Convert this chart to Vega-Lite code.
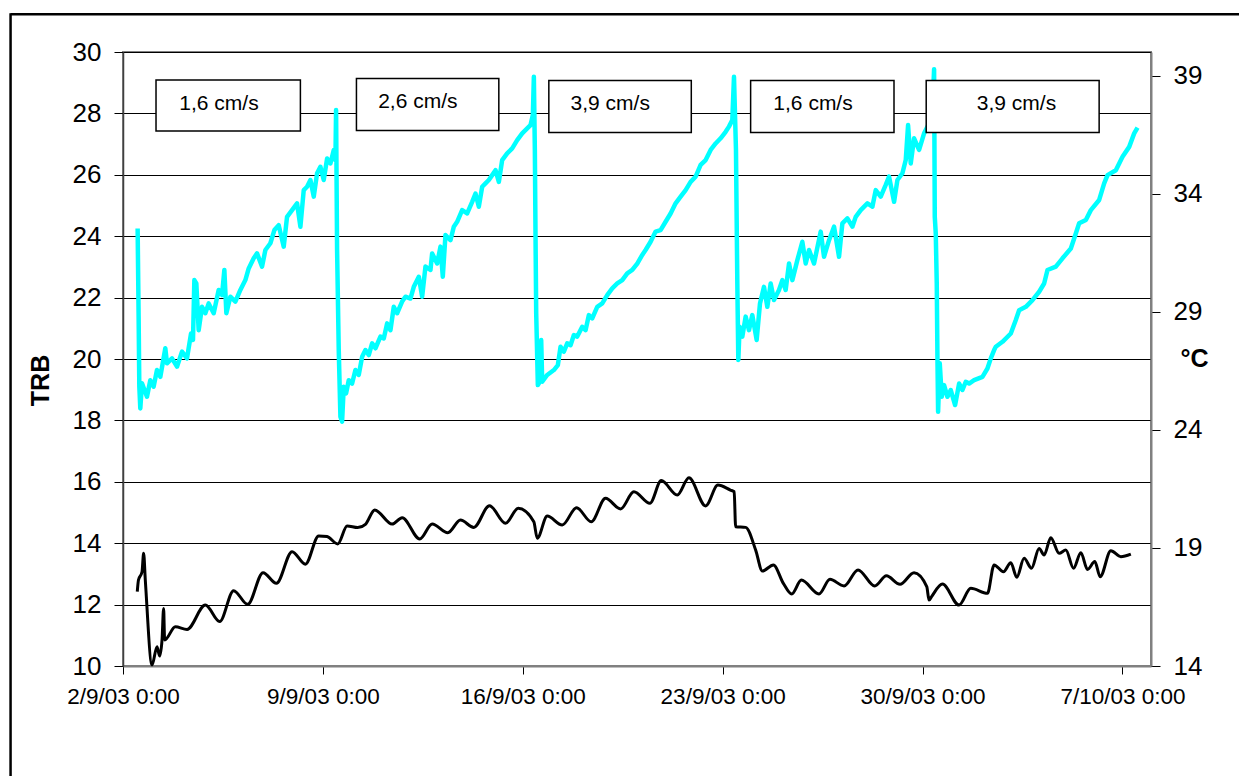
{
  "$schema": "https://vega.github.io/schema/vega-lite/v6.json",
  "width": 1028,
  "height": 614,
  "autosize": {"type": "none"},
  "padding": {"left": 123, "top": 52, "right": 88, "bottom": 110},
  "background": "white",
  "config": {
    "font": "Liberation Sans",
    "view": {"stroke": "#808080", "strokeWidth": 2}
  },
  "datasets": {
    "trb": [
      {"t": "2003-09-02T12:18", "v": 24.25},
      {"t": "2003-09-02T13:08", "v": 21.38},
      {"t": "2003-09-02T13:43", "v": 19.10},
      {"t": "2003-09-02T14:33", "v": 18.39},
      {"t": "2003-09-02T15:57", "v": 19.21},
      {"t": "2003-09-02T20:09", "v": 18.77},
      {"t": "2003-09-02T22:57", "v": 19.31},
      {"t": "2003-09-03T01:45", "v": 19.10},
      {"t": "2003-09-03T04:34", "v": 19.64},
      {"t": "2003-09-03T07:22", "v": 19.42},
      {"t": "2003-09-03T11:34", "v": 20.35},
      {"t": "2003-09-03T12:58", "v": 19.86},
      {"t": "2003-09-03T17:11", "v": 20.02},
      {"t": "2003-09-03T21:23", "v": 19.75},
      {"t": "2003-09-04T01:35", "v": 20.24},
      {"t": "2003-09-04T05:47", "v": 20.02},
      {"t": "2003-09-04T09:10", "v": 20.83},
      {"t": "2003-09-04T10:50", "v": 20.62},
      {"t": "2003-09-04T11:58", "v": 22.57},
      {"t": "2003-09-04T13:38", "v": 22.46},
      {"t": "2003-09-04T15:36", "v": 20.94},
      {"t": "2003-09-04T18:24", "v": 21.70},
      {"t": "2003-09-04T21:12", "v": 21.49},
      {"t": "2003-09-05T00:00", "v": 21.81},
      {"t": "2003-09-05T04:13", "v": 21.49},
      {"t": "2003-09-05T08:25", "v": 22.25},
      {"t": "2003-09-05T11:14", "v": 22.08},
      {"t": "2003-09-05T13:11", "v": 22.90},
      {"t": "2003-09-05T14:52", "v": 21.49},
      {"t": "2003-09-05T18:14", "v": 22.03},
      {"t": "2003-09-05T22:26", "v": 21.87},
      {"t": "2003-09-06T02:38", "v": 22.25},
      {"t": "2003-09-06T06:51", "v": 22.57},
      {"t": "2003-09-06T09:39", "v": 22.95},
      {"t": "2003-09-06T13:51", "v": 23.28},
      {"t": "2003-09-06T16:40", "v": 23.44},
      {"t": "2003-09-06T20:52", "v": 23.01},
      {"t": "2003-09-06T23:40", "v": 23.55},
      {"t": "2003-09-07T03:52", "v": 23.77},
      {"t": "2003-09-07T07:14", "v": 24.20},
      {"t": "2003-09-07T10:52", "v": 24.36},
      {"t": "2003-09-07T15:05", "v": 23.66},
      {"t": "2003-09-07T17:53", "v": 24.63},
      {"t": "2003-09-07T22:05", "v": 24.85},
      {"t": "2003-09-08T02:18", "v": 25.07},
      {"t": "2003-09-08T05:06", "v": 24.31},
      {"t": "2003-09-08T07:54", "v": 25.50},
      {"t": "2003-09-08T10:43", "v": 25.61},
      {"t": "2003-09-08T13:31", "v": 25.83},
      {"t": "2003-09-08T16:19", "v": 25.29},
      {"t": "2003-09-08T19:07", "v": 26.05},
      {"t": "2003-09-08T21:55", "v": 26.26},
      {"t": "2003-09-09T00:43", "v": 25.83},
      {"t": "2003-09-09T03:32", "v": 26.53},
      {"t": "2003-09-09T06:20", "v": 26.37},
      {"t": "2003-09-09T09:08", "v": 26.81},
      {"t": "2003-09-09T10:32", "v": 26.48},
      {"t": "2003-09-09T11:05", "v": 28.11},
      {"t": "2003-09-09T11:56", "v": 23.55},
      {"t": "2003-09-09T13:20", "v": 20.29},
      {"t": "2003-09-09T14:44", "v": 18.12},
      {"t": "2003-09-09T16:08", "v": 17.96},
      {"t": "2003-09-09T17:32", "v": 19.10},
      {"t": "2003-09-09T19:30", "v": 18.88},
      {"t": "2003-09-09T21:44", "v": 19.31},
      {"t": "2003-09-10T00:33", "v": 19.20},
      {"t": "2003-09-10T03:21", "v": 19.64},
      {"t": "2003-09-10T06:09", "v": 19.48},
      {"t": "2003-09-10T08:58", "v": 20.07},
      {"t": "2003-09-10T11:46", "v": 20.29},
      {"t": "2003-09-10T14:34", "v": 20.13},
      {"t": "2003-09-10T17:22", "v": 20.51},
      {"t": "2003-09-10T20:10", "v": 20.35},
      {"t": "2003-09-11T00:22", "v": 20.73},
      {"t": "2003-09-11T03:10", "v": 20.67},
      {"t": "2003-09-11T05:59", "v": 21.16},
      {"t": "2003-09-11T08:47", "v": 20.94},
      {"t": "2003-09-11T11:35", "v": 21.70},
      {"t": "2003-09-11T14:23", "v": 21.49},
      {"t": "2003-09-11T18:35", "v": 21.87},
      {"t": "2003-09-11T21:24", "v": 22.03},
      {"t": "2003-09-12T01:36", "v": 21.97},
      {"t": "2003-09-12T04:24", "v": 22.35},
      {"t": "2003-09-12T08:37", "v": 22.68},
      {"t": "2003-09-12T11:25", "v": 22.03},
      {"t": "2003-09-12T14:13", "v": 23.01},
      {"t": "2003-09-12T18:25", "v": 22.90},
      {"t": "2003-09-12T19:49", "v": 23.44},
      {"t": "2003-09-13T00:02", "v": 23.11},
      {"t": "2003-09-13T02:50", "v": 23.66},
      {"t": "2003-09-13T04:47", "v": 22.68},
      {"t": "2003-09-13T07:02", "v": 24.04},
      {"t": "2003-09-13T11:14", "v": 23.87},
      {"t": "2003-09-13T14:02", "v": 24.31},
      {"t": "2003-09-13T16:50", "v": 24.47},
      {"t": "2003-09-13T21:03", "v": 24.85},
      {"t": "2003-09-14T01:15", "v": 24.74},
      {"t": "2003-09-14T05:28", "v": 25.12},
      {"t": "2003-09-14T08:16", "v": 25.39},
      {"t": "2003-09-14T11:04", "v": 24.96},
      {"t": "2003-09-14T13:52", "v": 25.61},
      {"t": "2003-09-14T16:40", "v": 25.72},
      {"t": "2003-09-14T19:28", "v": 25.83},
      {"t": "2003-09-14T22:17", "v": 25.99},
      {"t": "2003-09-15T01:05", "v": 26.15},
      {"t": "2003-09-15T03:53", "v": 25.77},
      {"t": "2003-09-15T06:41", "v": 26.48},
      {"t": "2003-09-15T10:53", "v": 26.70},
      {"t": "2003-09-15T15:06", "v": 26.86},
      {"t": "2003-09-15T19:18", "v": 27.13},
      {"t": "2003-09-15T23:31", "v": 27.35},
      {"t": "2003-09-16T03:43", "v": 27.51},
      {"t": "2003-09-16T06:31", "v": 27.62},
      {"t": "2003-09-16T08:28", "v": 27.95},
      {"t": "2003-09-16T09:19", "v": 29.19},
      {"t": "2003-09-16T10:09", "v": 26.81},
      {"t": "2003-09-16T10:43", "v": 23.98},
      {"t": "2003-09-16T11:17", "v": 21.49},
      {"t": "2003-09-16T12:40", "v": 19.15},
      {"t": "2003-09-16T14:21", "v": 19.26},
      {"t": "2003-09-16T15:29", "v": 20.62},
      {"t": "2003-09-16T16:19", "v": 19.26},
      {"t": "2003-09-16T20:32", "v": 19.48},
      {"t": "2003-09-17T02:08", "v": 19.64},
      {"t": "2003-09-17T05:29", "v": 19.80},
      {"t": "2003-09-17T07:44", "v": 20.40},
      {"t": "2003-09-17T10:32", "v": 20.24},
      {"t": "2003-09-17T13:21", "v": 20.51},
      {"t": "2003-09-17T16:09", "v": 20.45},
      {"t": "2003-09-17T18:57", "v": 20.78},
      {"t": "2003-09-17T21:46", "v": 20.73},
      {"t": "2003-09-18T01:58", "v": 21.05},
      {"t": "2003-09-18T04:46", "v": 20.94},
      {"t": "2003-09-18T07:34", "v": 21.43},
      {"t": "2003-09-18T10:22", "v": 21.32},
      {"t": "2003-09-18T14:35", "v": 21.70},
      {"t": "2003-09-18T18:47", "v": 21.81},
      {"t": "2003-09-18T22:59", "v": 22.08},
      {"t": "2003-09-19T03:11", "v": 22.30},
      {"t": "2003-09-19T07:24", "v": 22.46},
      {"t": "2003-09-19T11:36", "v": 22.57},
      {"t": "2003-09-19T15:49", "v": 22.79},
      {"t": "2003-09-19T20:01", "v": 22.90},
      {"t": "2003-09-20T00:13", "v": 23.11},
      {"t": "2003-09-20T04:25", "v": 23.39},
      {"t": "2003-09-20T07:13", "v": 23.55},
      {"t": "2003-09-20T11:26", "v": 23.82},
      {"t": "2003-09-20T15:38", "v": 24.15},
      {"t": "2003-09-20T19:50", "v": 24.20},
      {"t": "2003-09-21T00:02", "v": 24.47},
      {"t": "2003-09-21T04:15", "v": 24.74},
      {"t": "2003-09-21T08:27", "v": 25.07},
      {"t": "2003-09-21T12:40", "v": 25.29},
      {"t": "2003-09-21T16:52", "v": 25.50},
      {"t": "2003-09-21T21:04", "v": 25.77},
      {"t": "2003-09-22T01:16", "v": 25.94},
      {"t": "2003-09-22T05:29", "v": 26.32},
      {"t": "2003-09-22T09:41", "v": 26.48},
      {"t": "2003-09-22T13:53", "v": 26.81},
      {"t": "2003-09-22T18:05", "v": 27.02},
      {"t": "2003-09-22T22:17", "v": 27.19},
      {"t": "2003-09-23T02:30", "v": 27.40},
      {"t": "2003-09-23T05:18", "v": 27.57},
      {"t": "2003-09-23T08:06", "v": 27.78},
      {"t": "2003-09-23T09:31", "v": 29.19},
      {"t": "2003-09-23T11:11", "v": 26.81},
      {"t": "2003-09-23T12:19", "v": 22.46},
      {"t": "2003-09-23T13:09", "v": 19.97},
      {"t": "2003-09-23T14:16", "v": 21.05},
      {"t": "2003-09-23T16:31", "v": 20.73},
      {"t": "2003-09-23T19:19", "v": 21.38},
      {"t": "2003-09-23T22:07", "v": 20.94},
      {"t": "2003-09-24T00:55", "v": 21.43},
      {"t": "2003-09-24T04:34", "v": 20.62},
      {"t": "2003-09-24T07:22", "v": 21.81},
      {"t": "2003-09-24T10:44", "v": 22.35},
      {"t": "2003-09-24T13:32", "v": 21.70},
      {"t": "2003-09-24T16:20", "v": 22.46},
      {"t": "2003-09-24T19:08", "v": 21.92},
      {"t": "2003-09-24T23:21", "v": 22.25},
      {"t": "2003-09-25T02:09", "v": 22.57},
      {"t": "2003-09-25T04:57", "v": 22.25},
      {"t": "2003-09-25T07:46", "v": 23.11},
      {"t": "2003-09-25T10:34", "v": 22.57},
      {"t": "2003-09-25T14:46", "v": 23.22},
      {"t": "2003-09-25T18:58", "v": 23.82},
      {"t": "2003-09-25T21:47", "v": 23.11},
      {"t": "2003-09-26T00:35", "v": 23.55},
      {"t": "2003-09-26T04:47", "v": 23.11},
      {"t": "2003-09-26T10:23", "v": 24.15},
      {"t": "2003-09-26T13:11", "v": 23.33},
      {"t": "2003-09-26T17:24", "v": 23.87},
      {"t": "2003-09-26T21:36", "v": 24.31},
      {"t": "2003-09-27T01:48", "v": 23.33},
      {"t": "2003-09-27T04:37", "v": 24.42},
      {"t": "2003-09-27T08:49", "v": 24.58},
      {"t": "2003-09-27T13:01", "v": 24.31},
      {"t": "2003-09-27T15:49", "v": 24.63},
      {"t": "2003-09-27T20:02", "v": 24.85},
      {"t": "2003-09-28T01:38", "v": 25.07},
      {"t": "2003-09-28T05:50", "v": 24.96},
      {"t": "2003-09-28T08:38", "v": 25.50},
      {"t": "2003-09-28T12:51", "v": 25.29},
      {"t": "2003-09-28T17:03", "v": 25.67},
      {"t": "2003-09-28T19:51", "v": 25.94},
      {"t": "2003-09-29T00:04", "v": 25.12},
      {"t": "2003-09-29T02:52", "v": 25.83},
      {"t": "2003-09-29T07:04", "v": 26.05},
      {"t": "2003-09-29T09:52", "v": 26.48},
      {"t": "2003-09-29T11:50", "v": 27.62},
      {"t": "2003-09-29T14:04", "v": 26.37},
      {"t": "2003-09-29T16:53", "v": 27.19},
      {"t": "2003-09-29T21:05", "v": 26.81},
      {"t": "2003-09-30T01:17", "v": 27.35},
      {"t": "2003-09-30T05:29", "v": 27.67},
      {"t": "2003-09-30T08:18", "v": 28.11},
      {"t": "2003-09-30T09:42", "v": 29.44},
      {"t": "2003-09-30T10:16", "v": 24.63},
      {"t": "2003-09-30T11:06", "v": 24.09},
      {"t": "2003-09-30T11:56", "v": 22.46},
      {"t": "2003-09-30T12:30", "v": 20.07},
      {"t": "2003-09-30T13:04", "v": 18.28},
      {"t": "2003-09-30T14:28", "v": 19.86},
      {"t": "2003-09-30T16:08", "v": 18.77},
      {"t": "2003-09-30T18:06", "v": 19.15},
      {"t": "2003-09-30T20:55", "v": 18.77},
      {"t": "2003-09-30T23:43", "v": 18.99},
      {"t": "2003-10-01T03:21", "v": 18.50},
      {"t": "2003-10-01T06:43", "v": 19.20},
      {"t": "2003-10-01T09:31", "v": 18.99},
      {"t": "2003-10-01T12:19", "v": 19.26},
      {"t": "2003-10-01T15:07", "v": 19.20},
      {"t": "2003-10-01T19:20", "v": 19.31},
      {"t": "2003-10-02T02:20", "v": 19.42},
      {"t": "2003-10-02T06:32", "v": 19.69},
      {"t": "2003-10-02T09:21", "v": 20.02},
      {"t": "2003-10-02T12:09", "v": 20.29},
      {"t": "2003-10-02T13:33", "v": 20.40},
      {"t": "2003-10-02T19:10", "v": 20.56},
      {"t": "2003-10-03T02:10", "v": 20.83},
      {"t": "2003-10-03T06:22", "v": 21.27},
      {"t": "2003-10-03T09:10", "v": 21.59},
      {"t": "2003-10-03T14:47", "v": 21.70},
      {"t": "2003-10-03T20:23", "v": 21.92},
      {"t": "2003-10-04T01:59", "v": 22.19},
      {"t": "2003-10-04T06:11", "v": 22.46},
      {"t": "2003-10-04T09:00", "v": 22.90},
      {"t": "2003-10-04T16:00", "v": 23.01},
      {"t": "2003-10-04T21:37", "v": 23.28},
      {"t": "2003-10-05T04:37", "v": 23.60},
      {"t": "2003-10-05T08:49", "v": 24.09},
      {"t": "2003-10-05T11:37", "v": 24.42},
      {"t": "2003-10-05T17:14", "v": 24.53},
      {"t": "2003-10-05T21:26", "v": 24.85},
      {"t": "2003-10-06T04:26", "v": 25.18},
      {"t": "2003-10-06T08:38", "v": 25.72},
      {"t": "2003-10-06T11:27", "v": 25.99},
      {"t": "2003-10-06T18:27", "v": 26.15},
      {"t": "2003-10-07T00:04", "v": 26.59},
      {"t": "2003-10-07T05:40", "v": 26.91},
      {"t": "2003-10-07T09:52", "v": 27.35},
      {"t": "2003-10-07T12:41", "v": 27.54}
    ],
    "temp": [
      {"t": "2003-09-02T12:00", "c": 17.15},
      {"t": "2003-09-02T13:00", "c": 17.64},
      {"t": "2003-09-02T16:00", "c": 17.99},
      {"t": "2003-09-02T17:20", "c": 18.77},
      {"t": "2003-09-02T18:45", "c": 17.64},
      {"t": "2003-09-03T00:25", "c": 14.04},
      {"t": "2003-09-03T04:35", "c": 14.82},
      {"t": "2003-09-03T06:45", "c": 14.42},
      {"t": "2003-09-03T08:48", "c": 15.10},
      {"t": "2003-09-03T10:08", "c": 16.44},
      {"t": "2003-09-03T11:00", "c": 15.10},
      {"t": "2003-09-03T20:00", "c": 15.66},
      {"t": "2003-09-04T05:50", "c": 15.55},
      {"t": "2003-09-04T21:13", "c": 16.58},
      {"t": "2003-09-05T09:14", "c": 15.88},
      {"t": "2003-09-05T21:00", "c": 17.19},
      {"t": "2003-09-06T08:47", "c": 16.61},
      {"t": "2003-09-06T21:44", "c": 17.95},
      {"t": "2003-09-07T08:55", "c": 17.50},
      {"t": "2003-09-07T22:07", "c": 18.84},
      {"t": "2003-09-08T09:18", "c": 18.31},
      {"t": "2003-09-08T20:29", "c": 19.51},
      {"t": "2003-09-09T03:33", "c": 19.48},
      {"t": "2003-09-09T12:28", "c": 19.17},
      {"t": "2003-09-09T20:22", "c": 19.93},
      {"t": "2003-09-10T05:17", "c": 19.86},
      {"t": "2003-09-10T11:45", "c": 20.00},
      {"t": "2003-09-10T19:35", "c": 20.61},
      {"t": "2003-09-11T10:13", "c": 20.01},
      {"t": "2003-09-11T18:37", "c": 20.28},
      {"t": "2003-09-12T09:25", "c": 19.38},
      {"t": "2003-09-12T19:51", "c": 20.01},
      {"t": "2003-09-13T08:58", "c": 19.64},
      {"t": "2003-09-13T19:38", "c": 20.18},
      {"t": "2003-09-14T06:50", "c": 19.87},
      {"t": "2003-09-14T20:02", "c": 20.79},
      {"t": "2003-09-15T09:29", "c": 20.04},
      {"t": "2003-09-15T20:10", "c": 20.68},
      {"t": "2003-09-16T09:17", "c": 20.11},
      {"t": "2003-09-16T12:09", "c": 19.41},
      {"t": "2003-09-16T20:33", "c": 20.35},
      {"t": "2003-09-17T09:10", "c": 19.97},
      {"t": "2003-09-17T21:12", "c": 20.70},
      {"t": "2003-09-18T09:33", "c": 20.11},
      {"t": "2003-09-18T21:34", "c": 21.10},
      {"t": "2003-09-19T10:11", "c": 20.65},
      {"t": "2003-09-19T21:23", "c": 21.38},
      {"t": "2003-09-20T10:50", "c": 20.89},
      {"t": "2003-09-20T20:25", "c": 21.85},
      {"t": "2003-09-21T09:52", "c": 21.24},
      {"t": "2003-09-21T19:38", "c": 21.97},
      {"t": "2003-09-22T09:40", "c": 20.78},
      {"t": "2003-09-22T20:01", "c": 21.66},
      {"t": "2003-09-23T06:30", "c": 21.45},
      {"t": "2003-09-23T09:40", "c": 21.38},
      {"t": "2003-09-23T10:54", "c": 19.90},
      {"t": "2003-09-23T19:19", "c": 19.87},
      {"t": "2003-09-24T03:43", "c": 18.91},
      {"t": "2003-09-24T09:21", "c": 18.02},
      {"t": "2003-09-24T18:36", "c": 18.28},
      {"t": "2003-09-25T03:00", "c": 17.50},
      {"t": "2003-09-25T10:00", "c": 17.05},
      {"t": "2003-09-25T18:09", "c": 17.64},
      {"t": "2003-09-26T08:57", "c": 17.05},
      {"t": "2003-09-26T18:12", "c": 17.67},
      {"t": "2003-09-27T06:00", "c": 17.39},
      {"t": "2003-09-27T17:46", "c": 18.07},
      {"t": "2003-09-28T07:48", "c": 17.39},
      {"t": "2003-09-28T17:38", "c": 17.82},
      {"t": "2003-09-29T05:04", "c": 17.46},
      {"t": "2003-09-29T16:51", "c": 17.95},
      {"t": "2003-09-30T03:32", "c": 17.36},
      {"t": "2003-09-30T05:27", "c": 16.79},
      {"t": "2003-09-30T07:28", "c": 16.93},
      {"t": "2003-09-30T16:43", "c": 17.47},
      {"t": "2003-10-01T06:40", "c": 16.58},
      {"t": "2003-10-01T16:32", "c": 17.29},
      {"t": "2003-10-02T06:33", "c": 17.08},
      {"t": "2003-10-02T12:07", "c": 18.28},
      {"t": "2003-10-02T20:01", "c": 17.99},
      {"t": "2003-10-03T02:09", "c": 18.37},
      {"t": "2003-10-03T07:12", "c": 17.76},
      {"t": "2003-10-03T13:20", "c": 18.56},
      {"t": "2003-10-03T19:33", "c": 18.14},
      {"t": "2003-10-04T01:57", "c": 18.98},
      {"t": "2003-10-04T06:10", "c": 18.70},
      {"t": "2003-10-04T11:47", "c": 19.43},
      {"t": "2003-10-04T18:46", "c": 18.77},
      {"t": "2003-10-05T00:25", "c": 18.91},
      {"t": "2003-10-05T06:53", "c": 18.14},
      {"t": "2003-10-05T13:01", "c": 18.80},
      {"t": "2003-10-05T18:39", "c": 18.09},
      {"t": "2003-10-06T00:48", "c": 18.42},
      {"t": "2003-10-06T05:15", "c": 17.78},
      {"t": "2003-10-06T14:15", "c": 18.88},
      {"t": "2003-10-06T22:39", "c": 18.63},
      {"t": "2003-10-07T07:04", "c": 18.74}
    ],
    "boxes": [
      {"t": "2003-09-03T03:45", "t2": "2003-09-08T05:06", "v": 29.09, "v2": 27.43},
      {"t": "2003-09-10T04:12", "t2": "2003-09-15T03:52", "v": 29.14, "v2": 27.44},
      {"t": "2003-09-16T21:54", "t2": "2003-09-21T21:38", "v": 29.07, "v2": 27.38},
      {"t": "2003-09-23T23:30", "t2": "2003-09-29T00:00", "v": 29.07, "v2": 27.38},
      {"t": "2003-09-30T03:04", "t2": "2003-10-06T04:25", "v": 29.07, "v2": 27.38}
    ],
    "labels": [
      {"t": "2003-09-03T23:21", "v": 28.30, "label": "1,6 cm/s"},
      {"t": "2003-09-10T22:26", "v": 28.36, "label": "2,6 cm/s"},
      {"t": "2003-09-17T16:08", "v": 28.30, "label": "3,9 cm/s"},
      {"t": "2003-09-24T18:36", "v": 28.30, "label": "1,6 cm/s"},
      {"t": "2003-10-01T21:36", "v": 28.30, "label": "3,9 cm/s"}
    ],
    "frameTop": [
      {"t": "2003-08-29T01:30", "t2": "2003-10-25T00:00", "v": 31.23}
    ],
    "frameLeft": [
      {"t": "2003-08-29T01:30", "v": 31.26, "v2": 4}
    ]
  },
  "encoding": {
    "x": {
      "field": "t", "type": "temporal",
      "scale": {"domain": [{"year": 2003, "month": 9, "date": 2}, {"year": 2003, "month": 10, "date": 8}]},
      "axis": {
        "title": null,
        "values": [
          {"year": 2003, "month": 9, "date": 2},
          {"year": 2003, "month": 9, "date": 9},
          {"year": 2003, "month": 9, "date": 16},
          {"year": 2003, "month": 9, "date": 23},
          {"year": 2003, "month": 9, "date": 30},
          {"year": 2003, "month": 10, "date": 7}
        ],
        "format": "%-d/%-m/%y %-H:%M",
        "grid": false,
        "labelFontSize": 22.5,
        "labelColor": "black",
        "labelPadding": 11,
        "labelFlush": false,
        "labelOverlap": false,
        "tickSize": 8,
        "tickColor": "black",
        "domainColor": "#808080",
        "domainWidth": 2
      }
    }
  },
  "layer": [
    {
      "encoding": {
        "y": {
          "field": "v", "type": "quantitative",
          "scale": {"domain": [10, 30], "nice": false, "zero": false},
          "axis": {
            "title": "TRB",
            "values": [10, 12, 14, 16, 18, 20, 22, 24, 26, 28, 30],
            "grid": true,
            "gridColor": "black",
            "gridWidth": 1,
            "labelFontSize": 26,
            "labelColor": "black",
            "labelPadding": 13,
            "tickSize": 9,
            "tickColor": "black",
            "domainColor": "#404040",
            "domainWidth": 1.5,
            "titleFontSize": 25,
            "titleFontWeight": "bold",
            "titleColor": "black",
            "titleX": -83,
            "titleY": 328,
            "titleAngle": -90,
            "titleAlign": "center",
            "titleBaseline": "middle"
          }
        }
      },
      "layer": [
        {
          "data": {"name": "trb"},
          "mark": {"type": "line", "color": "#00FFFF", "strokeWidth": 4.5, "strokeJoin": "round"}
        },
        {
          "data": {"name": "boxes"},
          "mark": {"type": "rect", "fill": "white", "stroke": "black", "strokeWidth": 1.5},
          "encoding": {
            "x2": {"field": "t2"},
            "y2": {"field": "v2"}
          }
        },
        {
          "data": {"name": "labels"},
          "mark": {"type": "text", "align": "left", "baseline": "middle", "fontSize": 21, "font": "Liberation Sans", "color": "black"},
          "encoding": {
            "text": {"field": "label"}
          }
        },
        {
          "data": {"name": "frameTop"},
          "mark": {"type": "rule", "color": "black", "strokeWidth": 2.5, "clip": false},
          "encoding": {
            "x2": {"field": "t2"}
          }
        },
        {
          "data": {"name": "frameLeft"},
          "mark": {"type": "rule", "color": "black", "strokeWidth": 2.5, "clip": false},
          "encoding": {
            "y2": {"field": "v2"}
          }
        }
      ]
    },
    {
      "data": {"name": "temp"},
      "mark": {"type": "line", "color": "black", "strokeWidth": 3, "interpolate": "monotone", "strokeJoin": "round"},
      "encoding": {
        "y": {
          "field": "c", "type": "quantitative",
          "scale": {"domain": [14, 40], "nice": false, "zero": false},
          "axis": {
            "orient": "right",
            "title": "°C",
            "values": [14, 19, 24, 29, 34, 39],
            "grid": false,
            "labelFontSize": 26,
            "labelColor": "black",
            "labelPadding": 13,
            "tickSize": 9,
            "tickColor": "black",
            "domainColor": "#808080",
            "domainWidth": 2,
            "titleFontSize": 25,
            "titleFontWeight": "bold",
            "titleColor": "black",
            "titleX": 43,
            "titleY": 306,
            "titleAngle": 0,
            "titleAlign": "center",
            "titleBaseline": "middle"
          }
        }
      }
    }
  ],
  "resolve": {"scale": {"y": "independent"}}
}
